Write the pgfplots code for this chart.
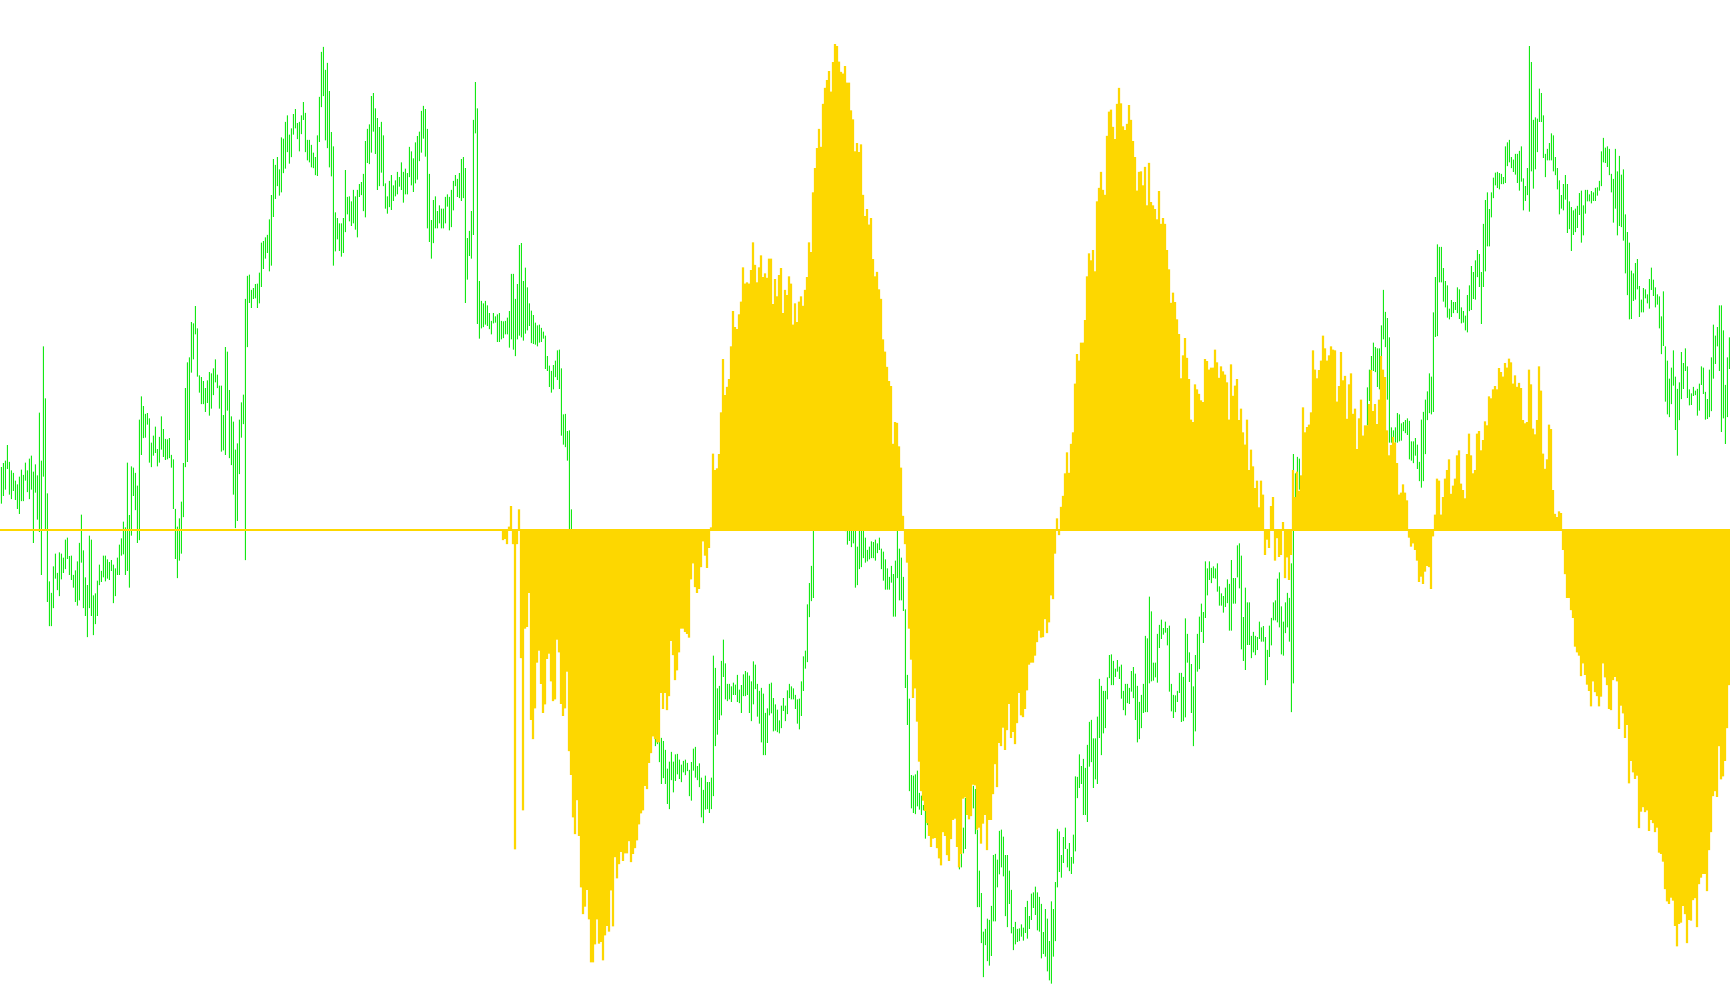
\documentclass[border=0pt]{standalone}
\usepackage{pgfplots}
\usepackage{pgfplotstable}
\pgfplotsset{compat=1.18}
\definecolor{grn}{RGB}{20,232,20}
\definecolor{gld}{RGB}{253,215,0}
\pgfplotstableread{
a b c
728 785 826
722 773 826
718 763 826
694 731 826
720 771 826
733 778 826
737 765 826
749 779 826
755 793 826
743 801 826
732 781 826
740 781 826
721 749 826
733 767 826
715 778 826
710 763 826
735 846 826
724 768 826
741 810 826
643 829 826
718 896 826
540 743 826
621 826 826
769 938 826
906 976 826
924 976 826
883 948 826
863 902 826
893 920 826
861 929 826
863 903 826
869 893 826
841 887 826
838 871 826
867 896 826
866 904 826
896 916 826
889 938 826
875 944 826
846 936 826
802 877 826
858 948 826
900 960 826
912 993 826
835 948 826
841 960 826
928 990 826
925 973 826
905 960 826
880 912 826
890 907 826
866 900 826
866 906 826
872 902 826
876 904 826
873 890 826
880 940 826
886 929 826
869 896 826
849 896 826
839 866 826
813 864 826
822 896 826
721 890 826
803 916 826
727 835 826
729 773 826
737 795 826
757 846 826
654 842 826
618 709 826
633 683 826
645 682 826
644 662 826
652 721 826
690 728 826
679 710 826
665 706 826
700 727 826
681 721 826
649 701 826
669 712 826
684 717 826
685 716 826
683 714 826
709 729 826
716 793 826
793 871 826
821 901 826
808 874 826
782 863 826
722 806 826
605 728 826
565 720 826
557 686 826
502 581 826
504 560 826
477 521 826
512 587 826
585 612 826
588 630 826
594 630 826
605 642 826
593 628 826
580 648 826
582 637 826
574 616 826
560 596 826
584 605 826
601 637 826
601 704 826
647 702 826
541 709 826
548 640 826
608 714 826
649 725 826
657 771 826
701 823 826
691 812 826
654 739 826
627 682 826
615 661 826
466 873 826
430 541 826
428 472 826
452 480 826
449 466 826
443 465 826
442 480 826
425 473 826
378 447 826
376 419 826
370 403 826
366 394 826
342 423 826
304 414 826
248 338 826
257 310 826
245 290 826
264 305 826
214 300 826
216 270 826
190 263 826
180 237 826
210 255 826
200 245 826
178 210 826
170 200 826
192 217 826
190 236 826
180 209 826
159 187 826
176 237 826
218 250 826
218 253 826
226 261 826
238 262 826
245 273 826
211 274 826
151 221 826
81 167 826
73 150 826
109 219 826
98 231 826
142 261 826
206 275 826
228 414 826
331 392 826
340 373 826
348 391 826
348 400 826
340 394 826
265 362 826
307 334 826
306 345 826
314 352 826
296 348 826
306 358 826
296 370 826
287 307 826
284 304 826
271 329 826
220 339 826
201 254 826
194 256 826
150 238 826
145 205 826
169 240 826
184 296 826
198 290 826
190 269 826
211 290 826
286 325 826
306 333 826
282 323 826
273 327 826
289 313 826
281 306 826
268 303 826
276 291 826
253 296 826
268 316 826
263 303 826
270 303 826
229 276 826
236 289 826
247 299 826
222 286 826
212 280 826
205 251 826
173 238 826
165 216 826
170 244 826
201 356 826
271 377 826
343 403 826
312 379 826
306 356 826
329 356 826
320 348 826
325 356 826
325 356 826
307 348 826
303 322 826
307 359 826
296 354 826
282 328 826
273 290 826
279 307 826
270 309 826
248 313 826
245 309 826
262 472 826
371 436 826
360 399 826
329 403 826
187 366 826
128 208 826
169 505 826
438 528 826
469 512 826
473 510 826
469 506 826
476 508 826
488 513 826
500 521 826
488 504 826
493 503 826
490 533 826
488 533 826
500 529 826
501 527 842
500 521 840
495 521 848
485 542 821
427 529 789
427 545 848
466 555 1324
443 529 848
382 523 794
379 526 1026
438 531 1263
417 520 980
448 515 977
473 508 924
484 535 1122
491 536 1152
503 537 1104
507 540 1033
506 534 1014
511 533 1066
517 528 1111
523 575 1098
555 578 1027
570 603 1019
578 612 1062
569 607 1093
562 588 1090
546 592 997
545 606 1017
574 679 1097
646 693 1116
645 697 1104
672 718 1047
671 826 1171
794 826 1208
826 826 1274
826 826 1300
826 826 1247
826 826 1303
826 826 1383
826 826 1425
826 826 1413
826 826 1387
826 826 1433
826 826 1500
826 826 1500
826 826 1472
826 826 1433
826 826 1471
826 826 1468
826 826 1497
826 826 1458
826 826 1443
826 826 1452
826 826 1388
826 826 1444
826 826 1336
826 826 1369
826 826 1347
826 826 1328
826 826 1342
826 826 1330
826 826 1330
826 826 1311
826 826 1344
826 826 1331
826 826 1322
826 826 1310
826 826 1285
826 826 1268
826 826 1263
826 826 1225
826 826 1230
826 826 1189
826 826 1174
826 826 1148
1152 1163 1152
1155 1160 1157
1152 1188 1157
1150 1222 1080
1155 1213 1105
1169 1222 1080
1198 1253 1107
1187 1261 1085
1172 1216 999
1187 1235 1021
1176 1217 1060
1175 1207 1045
1184 1214 1017
1192 1219 980
1186 1204 980
1184 1208 985
1189 1202 988
1200 1241 994
1188 1248 903
1167 1201 878
1164 1212 915
1194 1216 924
1190 1227 918
1212 1274 884
1231 1283 844
1209 1262 866
1219 1261 885
1219 1267 854
1212 1261 822
1022 1241 707
1041 1163 733
1073 1145 730
1069 1122 708
1030 1115 643
997 1055 560
1034 1090 616
1066 1093 603
1066 1090 591
1070 1094 540
1064 1083 485
1067 1083 510
1052 1094 513
1075 1096 490
1068 1111 470
1051 1085 417
1046 1085 442
1048 1083 440
1053 1111 442
1062 1124 421
1031 1098 378
1036 1074 413
1066 1117 440
1077 1128 417
1072 1157 398
1081 1177 432
1111 1177 426
1104 1158 433
1066 1115 403
1064 1112 403
1088 1140 474
1098 1139 435
1106 1141 462
1123 1143 429
1100 1135 418
1088 1108 488
1100 1124 452
1076 1113 460
1066 1088 431
1070 1090 442
1073 1090 506
1083 1105 473
1090 1128 502
1089 1137 470
1062 1116 462
1023 1077 477
1014 1042 452
942 1032 432
909 962 378
882 937 393
826 932 300
826 826 262
826 826 231
826 826 201
826 826 229
826 826 162
826 826 137
826 826 125
826 826 111
826 826 143
826 826 97
826 826 69
826 826 72
826 826 96
826 826 112
826 826 115
810 828 103
810 849 129
810 843 129
810 853 172
810 847 186
810 916 236
852 912 223
810 887 237
810 884 225
810 870 304
838 877 337
857 875 326
852 872 350
844 870 340
845 870 404
841 874 431
847 862 424
838 857 451
855 887 466
860 905 529
872 919 548
886 919 572
899 919 594
882 908 602
895 961 692
874 961 658
826 901 659
855 936 696
869 936 729
899 952 804
950 1072 848
1052 1130 877
1089 1233 980
1208 1260 1028
1209 1267 1088
1207 1269 1073
1201 1257 1125
1236 1262 1187
1240 1270 1233
1255 1263 1248
1253 1307 1264
1274 1286 1283
826 826 1303
826 826 1320
826 826 1307
826 826 1306
826 826 1322
826 826 1338
826 826 1349
826 826 1297
826 826 1303
826 826 1333
826 826 1342
826 826 1308
826 826 1278
826 826 1276
826 826 1320
1323 1355 1352
1330 1352 1331
1290 1330 1245
1244 1323 1243
826 826 1270
826 826 1277
826 826 1272
1225 1260 1223
1230 1300 1224
1294 1414 1293
1357 1414 1290
1392 1470 1315
1452 1523 1284
1448 1473 1270
1432 1498 1325
1434 1505 1278
1412 1490 1278
1333 1436 1238
1331 1436 1191
1340 1383 1227
1295 1363 1158
1293 1352 1163
1304 1366 1134
1333 1428 1169
1333 1445 1138
1357 1409 1097
1387 1455 1150
1445 1481 1141
1437 1472 1160
1448 1468 1127
1447 1467 1080
1441 1460 1115
1446 1466 1118
1414 1454 1105
1404 1463 1076
1428 1448 1036
1393 1434 1033
1391 1415 1033
1382 1426 1022
1391 1450 1001
1398 1452 983
1409 1494 994
1453 1487 993
1417 1491 965
1432 1514 987
1467 1528 970
1405 1533 928
1417 1491 934
1375 1467 863
1292 1383 808
1296 1359 834
1333 1368 790
1305 1345 773
1290 1323 738
1323 1352 705
1314 1358 737
1336 1362 692
1301 1346 674
1210 1327 598
1211 1244 552
1176 1228 562
1194 1222 534
1183 1270 534
1197 1270 499
1161 1281 431
1125 1195 395
1122 1188 406
1151 1228 390
1151 1215 423
1117 1222 314
1058 1150 293
1069 1177 268
1077 1143 296
1077 1135 304
1056 1090 212
1021 1057 174
1020 1068 171
1030 1068 198
1042 1055 217
1029 1047 162
1039 1058 137
1036 1089 161
1077 1107 197
1066 1115 203
1066 1096 193
1072 1097 164
1046 1078 187
1040 1088 220
1050 1122 245
1069 1157 297
1094 1152 268
1083 1135 267
1066 1111 289
991 1110 260
995 1110 320
930 1065 254
953 1062 315
1033 1061 320
1033 1056 326
988 1064 342
974 1010 298
966 996 349
979 989 340
969 986 349
979 1006 390
975 1078 420
1066 1109 472
1083 1119 456
1084 1110 471
1077 1094 498
1049 1080 521
1049 1125 590
1055 1124 554
964 1118 527
988 1033 558
1017 1063 591
1035 1111 654
1070 1163 658
1021 1140 599
988 1047 607
961 1043 614
941 985 624
954 1002 627
875 963 560
886 928 563
875 904 576
885 909 573
883 901 573
886 902 545
878 922 565
914 944 589
925 944 571
929 955 579
916 946 584
903 940 596
910 983 654
873 983 568
901 941 617
901 941 601
850 900 591
847 917 655
866 1012 637
962 1030 674
916 1044 693
939 1005 654
939 1005 733
991 1026 701
985 1017 727
991 1021 761
993 1013 749
969 996 791
978 1000 749
976 1000 771
993 1068 865
1013 1060 841
975 1024 854
963 1006 789
939 967 775
936 967 874
902 970 839
892 978 868
945 1020 865
969 1022 814
939 987 901
924 978 869
932 1000 904
878 1110 865
708 1065 733
738 775 775
712 763 735
715 763 765
826 826 741
826 826 635
826 826 674
826 826 666
826 826 662
826 826 643
826 826 546
826 826 576
826 826 590
826 826 577
826 826 562
826 826 523
826 826 543
826 826 562
826 826 554
826 826 540
826 826 545
826 826 546
826 826 626
826 826 602
826 826 549
826 826 593
826 826 586
826 826 653
826 826 599
826 826 582
826 826 645
826 826 637
826 826 700
826 826 652
826 826 623
826 826 679
826 826 663
604 663 663
576 625 630
555 585 577
534 578 641
541 580 630
543 603 661
543 607 623
507 560 555
452 529 576
486 541 588
496 623 671
526 690 710
666 690 694
671 685 681
666 690 690
644 690 722
646 688 771
660 687 768
658 672 755
655 675 768
652 678 780
656 716 838
688 718 852
688 722 847
683 710 857
693 731 874
720 750 907
654 760 899
642 750 910
623 708 891
610 655 882
582 644 884
587 646 918
487 642 836
432 525 802
381 524 746
385 440 749
385 440 802
418 470 775
438 479 746
445 495 733
481 498 716
468 494 770
471 488 757
471 483 746
448 488 710
451 497 702
479 504 754
485 503 764
492 515 777
460 518 708
445 485 676
415 483 710
424 466 738
406 467 733
390 432 676
396 447 672
424 505 702
349 447 686
312 423 657
300 384 663
326 384 618
300 339 621
277 309 607
269 289 602
268 293 607
270 295 574
271 287 580
276 287 587
228 285 566
222 259 573
218 253 559
245 262 565
249 268 598
240 272 585
240 285 603
235 297 597
228 283 605
278 328 655
290 313 660
262 304 658
72 330 576
97 267 599
187 294 668
183 264 677
185 237 655
138 190 571
145 190 609
180 246 707
240 276 731
232 250 716
223 250 662
208 250 669
211 267 764
245 273 801
262 295 806
281 334 797
304 325 800
287 328 857
273 311 895
287 363 932
314 357 932
323 391 951
328 366 963
325 362 1008
321 355 1017
301 335 1022
297 378 1054
320 367 1034
296 333 1052
296 314 1067
303 314 1077
298 317 1101
300 313 1062
293 313 1079
292 305 1085
282 297 1101
236 290 1086
215 253 1034
230 254 1056
228 260 1068
232 273 1105
271 300 1107
279 347 1060
232 325 1055
267 367 1062
243 352 1136
272 354 1100
264 375 1112
334 426 1150
362 460 1130
378 498 1221
422 497 1186
426 469 1204
410 467 1214
404 451 1209
446 494 1291
467 487 1265
449 487 1258
451 465 1266
459 473 1263
435 481 1295
417 452 1278
436 461 1283
448 479 1297
459 475 1290
462 512 1329
493 552 1331
454 539 1343
540 626 1386
562 646 1405
590 650 1409
573 630 1399
546 601 1404
587 670 1443
606 710 1475
596 655 1440
549 622 1438
566 606 1412
543 578 1425
571 620 1470
607 632 1434
613 631 1435
603 617 1403
609 616 1400
606 648 1445
598 640 1378
571 600 1368
573 614 1362
611 654 1362
622 653 1389
576 650 1325
557 641 1297
506 590 1241
523 567 1233
510 540 1242
476 578 1163
476 673 1215
515 652 1210
600 692 1186
557 650 1135
526 575 1068
}\chartdata
\begin{document}
\begin{tikzpicture}
\fill[white] (0,0) rectangle (865pt,502.5pt);
\path[use as bounding box] (0,0) rectangle (865pt,502.5pt);
\begin{axis}[at={(0,0)}, anchor=south west,
  width=865pt, height=502.5pt, scale only axis,
  xmin=0, xmax=1730, ymin=0, ymax=1566.5, y dir=reverse,
  hide axis, clip=true, ybar stacked, bar width=1.1, bar shift=0pt]
\addplot[draw=none, fill=none, forget plot]
  table[x expr=2*\coordindex+1.33, y=a] {\chartdata};
\addplot[draw=none, fill=grn, forget plot]
  table[x expr=2*\coordindex+1.33, y expr=\thisrow{b}-\thisrow{a}] {\chartdata};
\end{axis}
\begin{axis}[at={(0,0)}, anchor=south west,
  width=865pt, height=502.5pt, scale only axis,
  xmin=0, xmax=1730, ymin=-740.5, ymax=826,
  hide axis, clip=true]
\addplot[ybar, bar width=2.05, bar shift=0pt, draw=none, fill=gld, forget plot]
  table[x expr=2*\coordindex+1, y expr=826-\thisrow{c}] {\chartdata};
\addplot[gld, line width=1pt, forget plot] coordinates {(0,0) (1730,0)};
\end{axis}
\end{tikzpicture}
\end{document}
